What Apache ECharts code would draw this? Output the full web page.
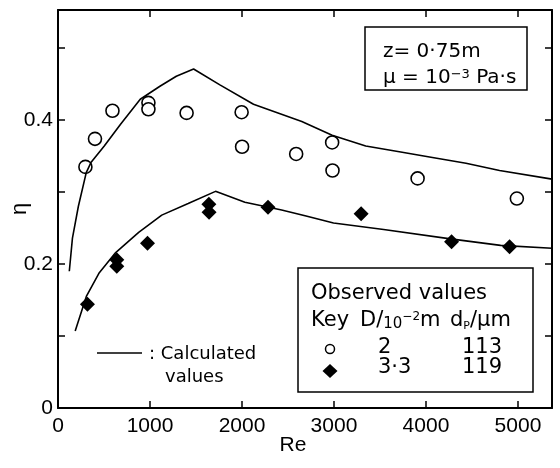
<!DOCTYPE html>
<html>
<head>
<meta charset="utf-8">
<script src="https://cdn.jsdelivr.net/npm/echarts@6/dist/echarts.min.js"></script>
<style>
  html, body { margin: 0; padding: 0; background: #fff; }
  #chart { width: 560px; height: 468px; }
</style>
</head>
<body>
<div id="chart"></div>
<script>
// calculated curves (Re, eta)
const calcUpper = [[123,0.19],[157,0.236],[221,0.28],[307,0.327],[358,0.341],[503,0.364],[678,0.394],[894,0.429],[1108,0.447],[1286,0.461],[1474,0.471],[1760,0.449],[2125,0.422],[2650,0.398],[2980,0.379],[3345,0.364],[3710,0.356],[4070,0.348],[4435,0.34],[4800,0.33],[5370,0.318]]
const calcLower = [[187,0.107],[308,0.155],[449,0.188],[627,0.216],[877,0.244],[1128,0.268],[1415,0.284],[1712,0.301],[2032,0.286],[2431,0.275],[2686,0.267],[2995,0.257],[3540,0.248],[4266,0.235],[4811,0.226],[5370,0.222]]
// observed values
const obsD2 = [[298,0.335],[402,0.374],[592,0.413],[983,0.424],[983,0.415],[1398,0.41],[1996,0.411],[2001,0.363],[2589,0.353],[2980,0.369],[2984,0.33],[3909,0.319],[4988,0.291]]
const obsD33 = [[320,0.144],[639,0.206],[639,0.197],[973,0.229],[1640,0.283],[1642,0.272],[2283,0.279],[3295,0.27],[4278,0.231],[4909,0.224]]
// axis ranges / ticks
const xMax = 5370
const xStep = 1000
const yMax = 0.553
const yStep = 0.1
const yLabels = ['0', '0.2', '0.4']

const labelFont = 'Liberation Sans'
const noteFont = 'DejaVu Sans'

let chart = echarts.init(document.getElementById('chart'))

function xLabel(v) {
  return v % xStep === 0 ? String(v) : ''
}
function yLabel(v) {
  let s = String(Math.round(v * 10) / 10)
  return yLabels.indexOf(s) >= 0 ? s : ''
}

let axisLine = { onZero: false, lineStyle: { color: '#000', width: 2 } }
let axisTick = { inside: true, length: 7, lineStyle: { color: '#000', width: 1.5 } }

let option = {
  animation: false,
  backgroundColor: '#fff',
  grid: { left: 58, right: 8, top: 10, bottom: 60, containLabel: false, outerBoundsMode: 'none' },
  xAxis: [
    {
      type: 'value', min: 0, max: xMax, interval: xStep,
      name: 'Re', nameLocation: 'middle', nameGap: 27, nameMoveOverlap: false,
      nameTextStyle: { color: '#000', fontSize: 21, fontFamily: labelFont, padding: [0, 24, 0, 0] },
      axisLine: axisLine, axisTick: axisTick, splitLine: { show: false },
      axisLabel: { color: '#000', fontSize: 21, fontFamily: labelFont, margin: 8, formatter: xLabel, showMaxLabel: false }
    },
    {
      type: 'value', position: 'top', min: 0, max: xMax, interval: xStep,
      axisLine: axisLine, axisTick: axisTick, splitLine: { show: false }, axisLabel: { show: false }
    }
  ],
  yAxis: [
    {
      type: 'value', min: 0, max: yMax, interval: yStep,
      name: 'η', nameLocation: 'middle', nameRotate: 90, nameGap: 27, nameMoveOverlap: false,
      nameTextStyle: { color: '#000', fontSize: 22, fontFamily: labelFont },
      axisLine: axisLine, axisTick: axisTick, splitLine: { show: false },
      axisLabel: { color: '#000', fontSize: 21, fontFamily: labelFont, margin: 5, formatter: yLabel, showMaxLabel: false }
    },
    {
      type: 'value', position: 'right', min: 0, max: yMax, interval: yStep,
      axisLine: axisLine, axisTick: axisTick, splitLine: { show: false }, axisLabel: { show: false }
    }
  ],
  series: [
    { type: 'line', data: calcUpper, showSymbol: false, lineStyle: { color: '#000', width: 1.6 } },
    { type: 'line', data: calcLower, showSymbol: false, lineStyle: { color: '#000', width: 1.6 } },
    {
      type: 'scatter', data: obsD2, symbol: 'circle', symbolSize: 13,
      itemStyle: { color: '#fff', borderColor: '#000', borderWidth: 1.6, opacity: 1 }
    },
    {
      type: 'scatter', data: obsD33, symbol: 'diamond', symbolSize: [15, 15],
      itemStyle: { color: '#000', opacity: 1 }
    }
  ],
  graphic: [
    // condition box
    { type: 'rect', shape: { x: 365, y: 27, width: 162, height: 63 }, style: { fill: '#fff', stroke: '#000', lineWidth: 1.5 } },
    { type: 'text', x: 383, y: 52, style: { text: 'z= 0·75m', fontSize: 20, fontFamily: noteFont, fill: '#000', verticalAlign: 'middle' } },
    {
      type: 'text', x: 383, y: 78,
      style: {
        text: '{a|μ = 10}{s|−3}{a| Pa·s}', fill: '#000', verticalAlign: 'middle',
        rich: {
          a: { fontSize: 20, fontFamily: noteFont, verticalAlign: 'bottom' },
          s: { fontSize: 13, fontFamily: noteFont, verticalAlign: 'top' }
        }
      }
    },
    // observed values key
    { type: 'rect', shape: { x: 298, y: 268, width: 235, height: 124 }, style: { fill: '#fff', stroke: '#000', lineWidth: 1.5 } },
    { type: 'text', x: 311, y: 294, style: { text: 'Observed values', fontSize: 21, fontFamily: noteFont, fill: '#000', verticalAlign: 'middle' } },
    { type: 'text', x: 311, y: 321, style: { text: 'Key', fontSize: 21, fontFamily: noteFont, fill: '#000', verticalAlign: 'middle' } },
    {
      type: 'text', x: 360, y: 321,
      style: {
        text: '{a|D/}{b|10}{s|−2}{a|m}', fill: '#000', verticalAlign: 'middle',
        rich: {
          a: { fontSize: 21, fontFamily: noteFont, verticalAlign: 'bottom' },
          b: { fontSize: 15, fontFamily: noteFont, verticalAlign: 'bottom' },
          s: { fontSize: 12, fontFamily: noteFont, verticalAlign: 'top' }
        }
      }
    },
    {
      type: 'text', x: 450, y: 321,
      style: {
        text: '{a|d}{p|P}{a|/μm}', fill: '#000', verticalAlign: 'middle',
        rich: {
          a: { fontSize: 21, fontFamily: noteFont, verticalAlign: 'bottom' },
          p: { fontSize: 11, fontFamily: noteFont, verticalAlign: 'bottom' }
        }
      }
    },
    { type: 'circle', shape: { cx: 330, cy: 349, r: 4.5 }, style: { fill: '#fff', stroke: '#000', lineWidth: 1.5 } },
    { type: 'polygon', shape: { points: [[330, 364], [337.5, 371], [330, 378], [322.5, 371]] }, style: { fill: '#000' } },
    { type: 'text', x: 378, y: 348, style: { text: '2', fontSize: 21, fontFamily: noteFont, fill: '#000', verticalAlign: 'middle' } },
    { type: 'text', x: 462, y: 348, style: { text: '113', fontSize: 21, fontFamily: noteFont, fill: '#000', verticalAlign: 'middle' } },
    { type: 'text', x: 378, y: 368, style: { text: '3·3', fontSize: 21, fontFamily: noteFont, fill: '#000', verticalAlign: 'middle' } },
    { type: 'text', x: 462, y: 368, style: { text: '119', fontSize: 21, fontFamily: noteFont, fill: '#000', verticalAlign: 'middle' } },
    // calculated values note
    { type: 'line', shape: { x1: 97, y1: 353, x2: 142, y2: 353 }, style: { stroke: '#000', lineWidth: 1.6 } },
    { type: 'text', x: 149, y: 354, style: { text: ': Calculated', fontSize: 18, fontFamily: noteFont, fill: '#000', verticalAlign: 'middle' } },
    { type: 'text', x: 165, y: 377, style: { text: 'values', fontSize: 18, fontFamily: noteFont, fill: '#000', verticalAlign: 'middle' } }
  ]
}

chart.setOption(option)
</script>
</body>
</html>
